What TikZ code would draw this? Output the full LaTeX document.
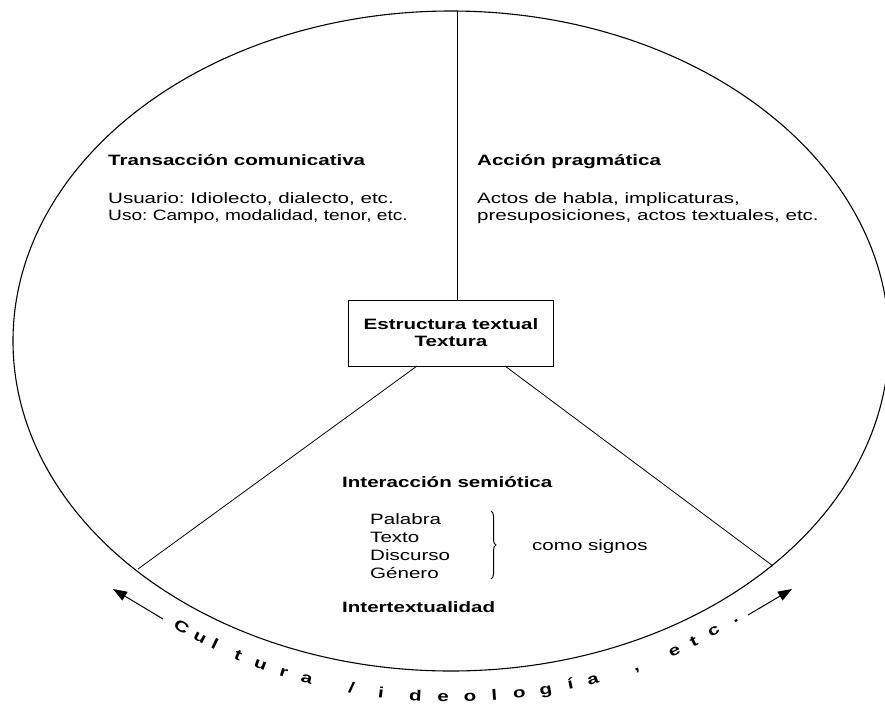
\documentclass[tikz,border=0pt]{standalone}
\usepackage{fontspec}
\setmainfont{Liberation Sans}[FakeStretch=1.37]
\usetikzlibrary{shapes.geometric,arrows.meta,decorations.pathreplacing}

\tikzset{
  txt/.style={anchor=base west, inner sep=0pt, font=\fontsize{15}{17}\selectfont\frenchspacing},
  head/.style={txt, font=\fontsize{15}{17}\selectfont\bfseries\frenchspacing},
  arcch/.style={inner sep=0pt, anchor=base, font=\fontsize{15}{17}\selectfont\bfseries},
  rim/.style={line width=1.1pt},
  spoke/.style={line width=0.8pt},
  flow/.style={line width=1pt, -{Triangle[length=14pt,width=10pt]}},
}

\begin{document}
\begin{tikzpicture}[x=1pt,y=-1pt]
  \useasboundingbox (0,0) rectangle (885,707);

  % outer ring
  \node[draw, rim, ellipse, minimum width=876pt, minimum height=660pt,
        inner sep=0pt] (ring) at (451,341) {};

  % central box
  \node[draw, spoke, minimum width=205pt, minimum height=66pt, align=center,
        font=\fontsize{15}{17}\selectfont\bfseries] (core) at (451,333)
        {Estructura textual\\Textura};

  % dividing lines
  \coordinate (top) at (457,11);
  \coordinate (bl) at (417,366);
  \coordinate (br) at (505,366);
  \coordinate (rimL) at (138,569);
  \coordinate (rimR) at (773,566);
  \draw[spoke] (top) -- (top |- core.north);
  \draw[spoke] (bl) -- (rimL);
  \draw[spoke] (br) -- (rimR);

  % upper left sector
  \node[head] (trans) at (108,165) {Transacción comunicativa};
  \node[txt] (usuario) at (108,203) {Usuario: Idiolecto, dialecto, etc.};
  \node[txt] (uso) at (108,220)
    {\scalebox{0.93}[1]{Uso: Campo, modalidad, tenor, etc.}};

  % upper right sector
  \node[head] (accion) at (477,165) {Acción pragmática};
  \node[txt] (actos) at (477,203) {Actos de habla, implicaturas,};
  \node[txt] (presup) at (477,220) {presuposiciones, actos textuales, etc.};

  % lower sector
  \node[head] (inter) at (342,487) {Interacción semiótica};
  \node[txt] (palabra) at (370,524) {Palabra};
  \node[txt] (texto) at (370,542) {Texto};
  \node[txt] (discurso) at (370,560) {Discurso};
  \node[txt] (genero) at (370,578) {Género};
  \coordinate (bracetop) at (491,511);
  \coordinate (bracebot) at (491,579);
  \draw[line width=1pt, decorate, decoration={brace, amplitude=5pt}]
    (bracetop) -- (bracebot);
  \node[txt] (signos) at (532,550) {como signos};
  \node[head] (intertext) at (342,612) {Intertextualidad};

  % arrows around the ring
  \coordinate (lt) at (163,619);
  \coordinate (lh) at (113,589);
  \coordinate (rt) at (748,615);
  \coordinate (rh) at (792,589);
  \draw[flow] (lt) -- (lh);
  \draw[flow] (rt) -- (rh);

  % text set along the ring
  \foreach \t/\ch [count=\k] in {126.6/C,123.7/u,121.5/l,118.1/t,114.9/u,
      111.7/r,108.6/a,102.7/{/},98.9/i,94.5/d,91.0/e,87.6/o,84.5/l,81.3/o,
      77.9/g,74.7/í,71.7/a,65.9/{,},60.4/e,57.5/t,54.5/c,51.2/.}
    \node[arcch, rotate={atan(361*cos(\t)/(456*sin(\t)))}] (arc\k)
      at ({451+456*cos(\t)},{341+361*sin(\t)}) {\ch};
\end{tikzpicture}
\end{document}
